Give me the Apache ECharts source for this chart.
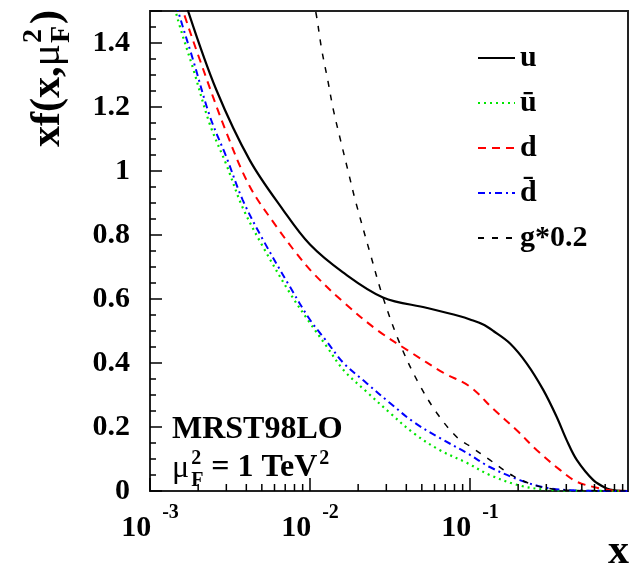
<!DOCTYPE html>
<html><head><meta charset="utf-8">
<script src="https://cdn.jsdelivr.net/npm/echarts@6/dist/echarts.min.js"></script>
<style>html,body{margin:0;padding:0;background:#fff}#c{width:632px;height:566px}</style>
</head><body><div id="c"></div>
<script>
// ---- data (x, x*f(x, mu_F^2)) ----
const uX = [0.001, 0.00173, 0.0026, 0.0042, 0.0068, 0.01, 0.016, 0.0286, 0.054, 0.0866, 0.1, 0.12, 0.14, 0.178, 0.226, 0.287, 0.348, 0.402, 0.465, 0.59, 0.715, 0.8, 0.97];
const uY = [1.88, 1.50, 1.253, 1.034, 0.878, 0.77, 0.684, 0.605, 0.572, 0.546, 0.536, 0.521, 0.500, 0.461, 0.399, 0.316, 0.232, 0.159, 0.097, 0.034, 0.008, 0.002, 0];
const dX = [0.001, 0.00161, 0.00205, 0.00301, 0.00422, 0.0062, 0.0083, 0.0105, 0.0162, 0.0263, 0.0422, 0.068, 0.1, 0.14, 0.196, 0.261, 0.365, 0.465, 0.65, 0.8, 0.97];
const dY = [1.82, 1.50, 1.347, 1.119, 0.95, 0.825, 0.74, 0.68, 0.59, 0.503, 0.435, 0.37, 0.326, 0.256, 0.19, 0.128, 0.066, 0.029, 0.008, 0.001, 0];
const seaX = [0.001, 0.0015, 0.00186, 0.00237, 0.003, 0.0038, 0.0051, 0.0075, 0.01, 0.0127, 0.0162, 0.0226, 0.0316, 0.0443, 0.0646, 0.0955, 0.133, 0.205, 0.3, 0.45, 0.97];
const ubarY = [1.80, 1.47, 1.32, 1.145, 1.02, 0.885, 0.762, 0.618, 0.525, 0.452, 0.378, 0.31, 0.244, 0.181, 0.128, 0.088, 0.05, 0.017, 0.004, 0.001, 0];
const dbarY = [1.83, 1.50, 1.347, 1.17, 1.044, 0.909, 0.784, 0.638, 0.535, 0.468, 0.40, 0.337, 0.275, 0.216, 0.166, 0.119, 0.075, 0.034, 0.01, 0.002, 0];
const gX = [0.005, 0.0079, 0.01084, 0.01183, 0.01291, 0.0140, 0.01556, 0.01734, 0.0193, 0.0237, 0.0286, 0.0365, 0.0468, 0.0622, 0.0832, 0.1, 0.133, 0.186, 0.25, 0.33, 0.5, 0.97];
const gY = [2.4, 1.83, 1.50, 1.38, 1.284, 1.191, 1.094, 0.998, 0.904, 0.745, 0.605, 0.46, 0.345, 0.243, 0.167, 0.14, 0.097, 0.047, 0.019, 0.006, 0.001, 0];
const seriesNames = ['u', 'ū', 'd', 'd\u0304', 'g*0.2'];
const minorX = [0.002,0.003,0.004,0.005,0.006,0.007,0.008,0.009,0.02,0.03,0.04,0.05,0.06,0.07,0.08,0.09,0.2,0.3,0.4,0.5,0.6,0.7,0.8,0.9];
const xMin = 0.001, xMax = 0.972, yMin = 0, yMax = 1.5, yStep = 0.2;

const zip = (xs, ys) => xs.map((x, i) => [x, ys[i]]);
const SERIF = '"Liberation Serif", "Times New Roman", serif';
const mctx = document.createElement('canvas').getContext('2d');
function tw(s, size, weight) { mctx.font = (weight || 'bold') + ' ' + size + 'px ' + SERIF; return mctx.measureText(s).width; }
function txt(s, x, base, size, weight, align) {
  return { type: 'text', x: x, y: base - 0.34 * size, silent: true,
    style: { text: s, fill: '#000', font: (weight || 'bold') + ' ' + size + 'px ' + SERIF,
      align: align || 'left', textAlign: align || 'left', verticalAlign: 'middle', textVerticalAlign: 'middle' } };
}

function lineSeries(name, data, color, width, type) {
  return { name: name, type: 'line', data: data, symbol: 'none', showSymbol: false, smooth: 0.35,
    clip: true, lineStyle: { color: color, width: width, type: type }, itemStyle: { color: color }, z: 3 };
}

// graphic annotations
const graphics = [];
graphics.push(txt('MRST98LO', 172, 441, 32, 'bold'));
(function () {
  let x = 172; const base = 479;
  graphics.push(txt('μ', x, base, 32, 'normal'));
  x += tw('μ', 32, 'normal') + 2;
  graphics.push(txt('2', x, base - 13, 20, 'bold'));
  graphics.push(txt('F', x, base + 9, 20, 'bold'));
  x += Math.max(tw('2', 20), tw('F', 20)) + 8;
  const s = '= 1 TeV';
  graphics.push(txt(s, x, base, 32, 'bold'));
  x += tw(s, 32) + 2;
  graphics.push(txt('2', x, base - 13, 20, 'bold'));
})();
graphics.push(txt('x', 629, 566, 42, 'bold', 'right'));
(function () {
  const fs = 42, ss = 28;
  const parts = [];
  let lx = 0;
  const t1 = 'xf(x,';
  parts.push(txt(t1, lx, 0, fs, 'bold'));
  lx += tw(t1, fs);
  parts.push(txt('μ', lx, 0, fs, 'normal'));
  lx += tw('μ', fs, 'normal') + 1;
  parts.push(txt('2', lx, -19, ss, 'bold'));
  parts.push(txt('F', lx, 9, ss, 'bold'));
  lx += Math.max(tw('2', ss), tw('F', ss)) + 2;
  parts.push(txt(')', lx, 0, fs, 'bold'));
  lx += tw(')', fs);
  graphics.push({ type: 'group', x: 62, y: 10 + lx, rotation: Math.PI / 2, children: parts, silent: true });
})();

const chart = echarts.init(document.getElementById('c'), null, { renderer: 'canvas' });
chart.setOption({
  animation: false,
  backgroundColor: '#fff',
  grid: { left: 150, top: 11, width: 478, height: 480, show: true, borderColor: '#222', borderWidth: 2, backgroundColor: 'transparent' },
  legend: {
    data: seriesNames, orient: 'vertical', left: 472, top: 38, itemWidth: 37, itemHeight: 14, itemGap: 15,
    itemStyle: { opacity: 0 },
    textStyle: { fontFamily: SERIF, fontWeight: 'bold', fontSize: 30, color: '#000' },
    selectedMode: false
  },
  xAxis: {
    type: 'log', logBase: 10, min: xMin, max: xMax,
    splitLine: { show: false },
    axisLine: { show: false },
    axisTick: { show: true, inside: true, length: 13, lineStyle: { color: '#000', width: 1.5 } },
    axisLabel: {
      showMaxLabel: false, margin: 12, color: '#000',
      formatter: function (v) { const e = Math.round(Math.log10(v)); return '{b|10}{s|' + e + '}'; },
      rich: {
        b: { fontFamily: SERIF, fontWeight: 'bold', fontSize: 30, lineHeight: 40, verticalAlign: 'bottom', color: '#000' },
        s: { fontFamily: SERIF, fontWeight: 'bold', fontSize: 20, verticalAlign: 'top', padding: [0, 0, 0, 11], color: '#000' }
      }
    }
  },
  yAxis: {
    type: 'value', min: yMin, max: yMax, interval: yStep,
    splitLine: { show: false },
    axisLine: { show: false },
    axisTick: { show: true, inside: true, length: 12, lineStyle: { color: '#000', width: 1.5 } },
    minorTick: { show: true, splitNumber: 4, length: 6, lineStyle: { color: '#000', width: 1.5 } },
    axisLabel: { margin: 20, color: '#000', fontFamily: SERIF, fontWeight: 'bold', fontSize: 30, showMaxLabel: false }
  },
  graphic: graphics,
  series: [
    lineSeries(seriesNames[0], zip(uX, uY), '#000000', 2.2, 'solid'),
    lineSeries(seriesNames[1], zip(seaX, ubarY), '#00e600', 2.2, [2, 4]),
    lineSeries(seriesNames[2], zip(dX, dY), '#ff0000', 2, [8, 6]),
    lineSeries(seriesNames[3], zip(seaX, dbarY), '#0000ff', 2, [7, 4, 2, 4]),
    lineSeries(seriesNames[4], zip(gX, gY), '#000000', 1.5, [6, 8]),
    {
      name: 'minorTicks', type: 'custom', silent: true, clip: false, z: 5,
      data: minorX.map(v => [v, 0]), encode: { x: 0, y: 1 },
      renderItem: function (params, api) {
        const p = api.coord([api.value(0), 0]);
        return { type: 'line', shape: { x1: p[0], y1: p[1], x2: p[0], y2: p[1] - 7 }, style: { stroke: '#000', lineWidth: 1.5 } };
      }
    }
  ]
});
</script></body></html>
